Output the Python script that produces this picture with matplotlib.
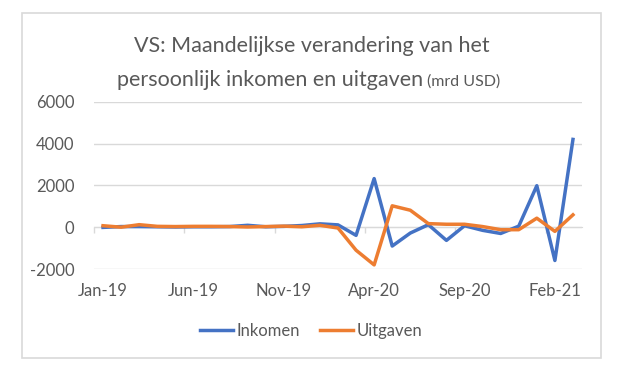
import matplotlib.pyplot as plt
from matplotlib.patches import Rectangle

plt.rcParams['font.family'] = ['Lato', 'DejaVu Sans']
plt.rcParams['axes.unicode_minus'] = False

maanden = ["Jan-19", "Feb-19", "Mar-19", "Apr-19", "May-19", "Jun-19", "Jul-19",
           "Aug-19", "Sep-19", "Oct-19", "Nov-19", "Dec-19", "Jan-20", "Feb-20",
           "Mar-20", "Apr-20", "May-20", "Jun-20", "Jul-20", "Aug-20", "Sep-20",
           "Oct-20", "Nov-20", "Dec-20", "Jan-21", "Feb-21", "Mar-21"]
inkomen = [0, 40, 40, 30, 20, 30, 30, 40, 100, 30, 50, 90, 170, 120,
           -380, 2330, -890, -270, 130, -620, 80, -140, -290, 60, 1990, -1580, 4200]
uitgaven = [80, 10, 130, 50, 40, 50, 50, 40, 20, 40, 60, 30, 100, -30,
            -1090, -1790, 1030, 820, 180, 150, 150, 40, -110, -110, 440, -190, 600]

grijs = '#595959'
lijn = '#d9d9d9'

fig = plt.figure(figsize=(6.25, 3.79), dpi=100)
ax = fig.add_axes([94/625, 1 - 269.3/379, 488/625, 167.6/379])

x = list(range(len(maanden)))
ax.plot(x, inkomen, color='#4472C4', lw=2.5, label='Inkomen')
ax.plot(x, uitgaven, color='#ED7D31', lw=2.5, label='Uitgaven')

ax.set_xlim(-0.5, len(maanden) - 0.5)
ax.set_ylim(-2000, 6000)
ax.set_yticks([-2000, 0, 2000, 4000, 6000])
ax.grid(axis='y', color=lijn, lw=1)
ax.set_axisbelow(True)
for s in ax.spines.values():
    s.set_visible(False)

ax.set_xticks(x[::5])
ax.set_xticklabels(maanden[::5])
ax.tick_params(axis='both', length=0, labelsize=12, colors=grijs)
ax.tick_params(axis='x', pad=10)
ax.tick_params(axis='y', pad=14)

# category axis through zero with tick marks between categories
sec = ax.secondary_xaxis(0.25)
sec.set_xticks([i - 0.5 for i in x[::5]])
sec.set_xticklabels([])
sec.tick_params(length=4, color=lijn, width=1)
sec.spines['bottom'].set_color(lijn)

fig.text(312/625, 1 - 46/379, "VS: Maandelijkse verandering van het",
         ha='center', va='center', fontsize=15.5, color=grijs)
fig.text(423/625, 1 - 86/379, "persoonlijk inkomen en uitgaven",
         ha='right', va='baseline', fontsize=15.5, color=grijs)
fig.text(427/625, 1 - 86/379, "(mrd USD)",
         ha='left', va='baseline', fontsize=11.5, color=grijs)

fig.legend(loc='center', bbox_to_anchor=(311/625, 1 - 331/379), ncol=2,
           frameon=False, fontsize=12, handlelength=2.0, handletextpad=0.2,
           columnspacing=1.2, labelcolor=grijs)

fig.add_artist(Rectangle((22/625, 1 - 358/379), 579/625, 345/379,
                         transform=fig.transFigure, fill=False, ec=lijn, lw=1.2))

fig.savefig("out.png", dpi=100)
